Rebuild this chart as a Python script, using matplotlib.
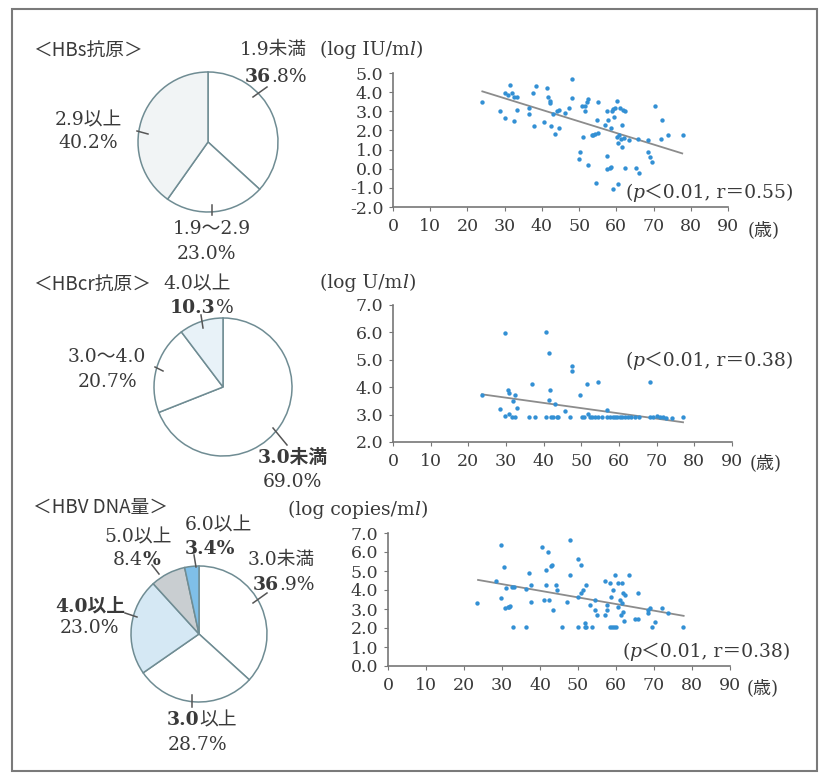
import matplotlib
matplotlib.use('Agg')
import matplotlib.pyplot as plt
from matplotlib.patches import Rectangle

plt.rcParams['font.family'] = ['DejaVu Serif', 'Noto Sans CJK JP']

W, H = 822, 773
INK = '#3a3a3a'
EDGE = '#6f8c93'
DOT = '#3390d4'
FIT = '#8c8c8c'

# ---- pie data (share %) ----
hbs_labels = ['1.9未満', '1.9～2.9', '2.9以上']
hbs_share = [36.8, 23.0, 40.2]
hbcr_labels = ['3.0未満', '3.0～4.0', '4.0以上']
hbcr_share = [69.0, 20.7, 10.3]
dna_labels = ['3.0未満', '3.0以上', '4.0以上', '5.0以上', '6.0以上']
dna_share = [36.9, 28.7, 23.0, 8.4, 3.4]

# ---- scatter data: age vs log value ----
hbs_age = [24.0, 28.8, 30.1, 30.0, 31.5, 31.0, 31.9, 32.4, 33.2, 32.5,
           33.2, 36.5, 36.6, 37.7, 38.3, 38.0, 40.6, 41.3, 41.7, 42.2,
           42.2, 42.4, 43.0, 43.5, 44.1, 44.6, 44.7, 46.2, 47.4, 48.0,
           48.0, 50.0, 50.2, 50.7, 51.1, 51.6, 51.7, 52.0, 52.4, 52.4,
           53.4, 53.8, 54.2, 54.5, 54.7, 55.0, 55.1, 56.9, 57.4, 57.6,
           57.4, 57.8, 58.3, 58.5, 58.7, 58.9, 59.1, 59.1, 59.4, 59.7,
           60.1, 60.3, 60.5, 60.5, 60.7, 60.9, 61.2, 61.4, 61.4, 61.9,
           62.1, 62.4, 62.3, 63.4, 65.4, 65.9, 66.0, 68.6, 68.6, 69.0,
           69.5, 70.3, 72.1, 72.3, 73.9, 77.9]
hbs_val = [3.51, 3.04, 2.64, 3.98, 4.39, 3.86, 3.95, 3.74, 3.77, 2.50,
           3.07, 3.16, 2.86, 3.95, 4.30, 2.23, 2.46, 4.21, 3.77, 3.56,
           3.42, 2.23, 2.86, 1.79, 3.00, 3.07, 2.11, 2.93, 3.16, 4.70,
           3.69, 0.53, 0.85, 3.30, 1.67, 3.25, 3.04, 3.51, 3.63, 0.18,
           1.76, 1.78, 1.81, -0.74, 2.55, 3.51, 1.85, 2.29, 3.02, 0.67,
           0.00, 2.55, 0.06, 0.09, 2.15, 3.04, 3.11, -1.04, 2.72, 3.16,
           3.56, 1.67, -0.78, 1.32, 1.76, 3.16, 1.53, 1.15, 2.29, 3.07,
           1.58, 2.99, 0.04, 1.50, 0.04, 1.55, -0.25, 1.50, 0.85, 0.59,
           0.36, 3.30, 1.55, 2.55, 1.76, 1.76]
hbs_fit_age = [24.0, 77.7]
hbs_fit_val = [4.04, 0.80]

hbcr_age = [23.6, 28.4, 29.8, 29.8, 30.6, 30.9, 30.8, 31.5, 31.8, 32.3,
            32.4, 33.0, 36.2, 37.0, 37.7, 40.5, 40.6, 41.3, 41.5, 41.7,
            42.0, 42.6, 43.0, 43.5, 43.9, 45.7, 47.0, 47.6, 47.6, 49.6,
            50.1, 50.6, 51.4, 51.9, 52.2, 52.8, 53.7, 54.4, 54.5, 55.4,
            56.7, 56.9, 57.6, 58.3, 58.9, 59.6, 60.3, 60.9, 61.6, 62.4,
            63.3, 64.2, 65.4, 68.2, 68.2, 69.1, 70.0, 70.8, 71.7, 72.6,
            74.0, 77.0]
hbcr_val = [3.73, 3.22, 5.96, 2.94, 3.89, 3.79, 3.04, 2.91, 3.50, 3.71,
            2.91, 3.25, 2.91, 4.11, 2.91, 6.02, 2.91, 5.26, 3.52, 3.91,
            2.91, 2.91, 3.40, 2.91, 2.91, 3.12, 2.91, 4.79, 4.59, 3.71,
            2.91, 2.91, 4.11, 3.04, 2.91, 2.91, 2.91, 2.91, 4.20, 2.91,
            3.16, 2.91, 2.91, 2.91, 2.91, 2.91, 2.91, 2.91, 2.91, 2.91,
            2.91, 2.91, 2.91, 4.20, 2.91, 2.91, 2.94, 2.91, 2.91, 2.86,
            2.88, 2.91]
hbcr_fit_age = [23.6, 77.0]
hbcr_fit_val = [3.74, 2.72]

dna_age = [23.4, 28.5, 29.7, 29.7, 30.6, 30.7, 31.0, 31.6, 31.8, 32.0,
           32.5, 32.9, 33.2, 36.2, 36.4, 37.0, 37.5, 37.7, 40.6, 41.1,
           41.6, 41.7, 42.1, 42.4, 42.8, 43.2, 43.5, 44.3, 44.5, 45.8,
           47.0, 47.8, 48.0, 49.9, 50.0, 50.0, 50.9, 50.9, 51.3, 51.8,
           51.8, 52.2, 52.2, 53.1, 53.8, 54.4, 54.4, 54.9, 57.1, 57.2,
           57.5, 57.7, 58.4, 58.4, 58.8, 59.0, 59.3, 59.5, 59.7, 60.0,
           60.4, 60.6, 61.0, 61.3, 61.5, 61.7, 61.9, 61.9, 62.2, 62.3,
           63.4, 65.0, 65.8, 65.8, 68.5, 68.5, 68.9, 69.4, 70.2, 72.0,
           73.7, 77.7]
dna_val = [3.33, 4.50, 6.38, 3.56, 5.20, 3.03, 4.13, 3.12, 3.08, 3.15,
           4.18, 2.06, 4.18, 4.04, 2.06, 4.89, 4.27, 3.35, 6.26, 3.47,
           5.03, 4.27, 5.98, 3.47, 5.24, 5.33, 2.94, 4.27, 4.00, 2.06,
           3.38, 4.80, 6.65, 2.06, 5.62, 3.61, 5.32, 3.82, 4.00, 2.24,
           2.06, 4.27, 2.06, 3.21, 2.06, 3.47, 2.94, 2.68, 4.50, 2.68,
           2.94, 3.21, 4.36, 2.06, 3.65, 2.06, 4.00, 2.06, 4.80, 2.06,
           4.36, 3.10, 3.47, 2.68, 4.36, 3.30, 3.82, 2.86, 2.38, 3.74,
           4.80, 2.50, 2.50, 3.82, 2.94, 2.77, 3.03, 2.06, 2.33, 3.03,
           2.77, 2.06]
dna_fit_age = [23.7, 77.8]
dna_fit_val = [4.53, 2.64]

age_ticks = list(range(0, 91, 10))

fig = plt.figure(figsize=(W / 100, H / 100), dpi=100)
fig.patch.set_facecolor('white')


def pie_panel(cx, cy, r, share, colors):
    side = 2 * r * 1.06
    ax = fig.add_axes([(cx - side / 2) / W, 1 - (cy + side / 2) / H, side / W, side / H])
    ax.pie(share, colors=colors, startangle=90, counterclock=False, radius=1,
           wedgeprops=dict(edgecolor=EDGE, linewidth=1.1))
    ax.set_xlim(-1.06, 1.06)
    ax.set_ylim(-1.06, 1.06)
    ax.set_aspect('equal')
    ax.axis('off')


def scatter_panel(l, t, r, b, age, val, fit_age, fit_val, ylim, yticks):
    ax = fig.add_axes([l / W, 1 - b / H, (r - l) / W, (b - t) / H])
    ax.scatter(age, val, s=10, color=DOT, linewidths=0, zorder=3)
    ax.plot(fit_age, fit_val, color=FIT, lw=1.3, zorder=2)
    ax.set_xlim(0, 90)
    ax.set_ylim(*ylim)
    ax.set_xticks(age_ticks)
    ax.set_yticks(yticks)
    ax.set_yticklabels(['%.1f' % v for v in yticks])
    for s in ('top', 'right'):
        ax.spines[s].set_visible(False)
    for s in ('left', 'bottom'):
        ax.spines[s].set_color('#777777')
        ax.spines[s].set_linewidth(1.2)
    ax.tick_params(axis='both', direction='out', length=3, color='#777777',
                   labelsize=12.5, labelcolor=INK)
    ax.tick_params(axis='x', pad=5)
    ax.tick_params(axis='y', pad=4)
    ax.patch.set_alpha(0)
    return ax


pie_panel(208, 142, 70, hbs_share, ['white', 'white', '#f1f4f5'])
pie_panel(223, 387, 69, hbcr_share, ['white', 'white', '#e8f2f8'])
pie_panel(199, 634, 68, dna_share, ['white', 'white', '#d5e8f4', '#c9ced1', '#7fbfe8'])

scatter_panel(393, 73, 728, 207, hbs_age, hbs_val, hbs_fit_age, hbs_fit_val,
              (-2, 5), [-2.0, -1.0, 0.0, 1.0, 2.0, 3.0, 4.0, 5.0])
scatter_panel(393, 305, 732, 442, hbcr_age, hbcr_val, hbcr_fit_age, hbcr_fit_val,
              (2, 7), [2.0, 3.0, 4.0, 5.0, 6.0, 7.0])
scatter_panel(388, 533, 730, 666, dna_age, dna_val, dna_fit_age, dna_fit_val,
              (0, 7), [0.0, 1.0, 2.0, 3.0, 4.0, 5.0, 6.0, 7.0])

# ---- overlay in pixel coordinates for texts, leader lines and frame ----
ov = fig.add_axes([0, 0, 1, 1])
ov.set_xlim(0, W)
ov.set_ylim(H, 0)
ov.axis('off')
ov.patch.set_alpha(0)
ov.add_patch(Rectangle((12, 9), 805, 762, fill=False, ec='#7a7a7a', lw=1.5))

renderer = fig.canvas.get_renderer()
B = {'fontweight': 'bold'}
I = {'style': 'italic'}
N = {}
PS = 13.5


def runs(x, y, parts, size=PS):
    for s, kw in parts:
        t = ov.text(x, y, s, fontsize=size, va='center', ha='left', color=INK, **kw)
        x += t.get_window_extent(renderer).width


def label(x, y, s, size=PS, **kw):
    ov.text(x, y, s, fontsize=size, va='center', ha='left', color=INK, **kw)


def leader(x1, y1, x2, y2):
    ov.plot([x1, x2], [y1, y2], color='#555555', lw=1.1)


SANS = ['Noto Sans CJK JP']

# HBs
label(33, 50, '＜HBs抗原＞', size=13.5, family=SANS)
label(240, 50, hbs_labels[0])
runs(245, 77, [('36', B), ('.8%', N)])
label(55, 120, hbs_labels[2])
label(58, 143, '%.1f%%' % hbs_share[2])
label(173, 229, hbs_labels[1])
label(177, 254, '%.1f%%' % hbs_share[1])
leader(253, 97, 267, 87)
leader(137, 131, 148, 134)
leader(212, 205, 212, 215)

# HBcr
label(33, 284, '＜HBcr抗原＞', size=13.5, family=SANS)
label(163, 284, hbcr_labels[2])
runs(170, 308, [('10.3', B), ('%', N)])
label(68, 357, hbcr_labels[1])
label(78, 382, '%.1f%%' % hbcr_share[1])
label(258, 458, hbcr_labels[0], fontweight='bold')
label(263, 482, '%.1f%%' % hbcr_share[0])
leader(201, 315, 203, 328)
leader(155, 367, 163, 371)
leader(273, 428, 287, 445)

# HBV DNA
label(33, 508, '＜HBV DNA量＞', size=13.5, family=SANS)
label(185, 525, dna_labels[4])
label(104, 537, dna_labels[3])
label(185, 549, '%.1f%%' % dna_share[4], fontweight='bold')
runs(113, 560, [('8.4', N), ('%', B)])
label(248, 560, dna_labels[0])
runs(253, 585, [('36', B), ('.9%', N)])
label(55, 606, dna_labels[2], fontweight='bold')
label(60, 628, '%.1f%%' % dna_share[2])
runs(167, 720, [('3.0', B), ('以上', N)])
label(168, 745, '%.1f%%' % dna_share[1])
leader(194, 555, 196, 567)
leader(152, 565, 159, 574)
leader(253, 603, 267, 593)
leader(125, 613, 137, 617)
leader(192, 695, 192, 707)

# scatter unit labels and statistics
runs(320, 50, [('(log IU/m', N), ('l', I), (')', N)], size=13.5)
runs(320, 283, [('(log U/m', N), ('l', I), (')', N)], size=13.5)
runs(288, 510, [('(log copies/m', N), ('l', I), (')', N)], size=13.5)
runs(625, 193, [('(', N), ('p', I), ('＜0.01, r＝0.55)', N)], size=13.5)
runs(625, 361, [('(', N), ('p', I), ('＜0.01, r＝0.38)', N)], size=13.5)
runs(622, 652, [('(', N), ('p', I), ('＜0.01, r＝0.38)', N)], size=13.5)
for yy, xx in ((230, 748), (463, 750), (688, 747)):
    label(xx, yy, '(歳)', size=13)

fig.savefig('out.png', dpi=100)
